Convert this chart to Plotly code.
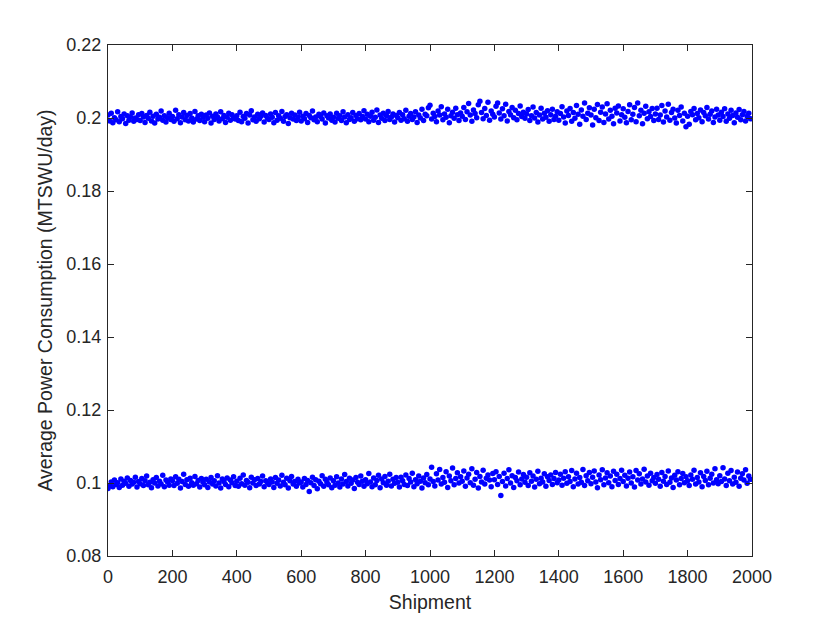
import plotly.graph_objects as go

# Shipment index of each plotted point (every 5th shipment)
shipments = list(range(0, 2000, 5))

# Values (MTSWU/day), 20 values per 100 shipments
upper_band = [
    0.2008,0.1992,0.2013,0.1987,0.2001,0.1995,0.2017,0.1990,0.2004,0.1998,0.2011,0.1985,0.2006,0.1994,0.2002,0.2014,0.1991,0.2000,0.1996,0.2009,
    0.1993,0.2012,0.2003,0.1988,0.2007,0.1999,0.2016,0.1992,0.2005,0.1986,0.2010,0.1997,0.2002,0.2019,0.1994,0.2006,0.1989,0.2001,0.2013,0.1996,
    0.2004,0.1991,0.2021,0.1998,0.2009,0.1987,0.2003,0.2015,0.1995,0.2007,0.1992,0.2012,0.2000,0.1989,0.2018,0.1997,0.2006,0.1993,0.2010,0.2002,
    0.1990,0.2008,0.1999,0.2014,0.1986,0.2005,0.1996,0.2011,0.2003,0.1992,0.2017,0.1998,0.2007,0.1988,0.2002,0.2013,0.1994,0.2009,0.2001,0.1997,
    0.2006,0.1993,0.2016,0.1990,0.2004,0.1999,0.2012,0.1986,0.2008,0.2020,0.1995,0.2003,0.1991,0.2010,0.1998,0.2005,0.2014,0.1989,0.2007,0.2000,
    0.1996,0.2011,0.2002,0.1987,0.2015,0.1994,0.2006,0.1999,0.2018,0.1991,0.2004,0.2009,0.1985,0.2001,0.2013,0.1997,0.2008,0.1993,0.2003,0.2016,
    0.1992,0.2005,0.1998,0.2012,0.1988,0.2007,0.2001,0.2019,0.1995,0.2003,0.1990,0.2010,0.2004,0.1997,0.2014,0.1986,0.2006,0.2000,0.2011,0.1994,
    0.2002,0.1989,0.2013,0.1999,0.2006,0.1993,0.2017,0.2003,0.1987,0.2009,0.1996,0.2001,0.2015,0.1991,0.2007,0.1998,0.2012,0.1995,0.2004,0.2020,
    0.1997,0.2010,0.1990,0.2005,0.2016,0.1994,0.2002,0.2022,0.1988,0.2008,0.1999,0.2013,0.1993,0.2006,0.2018,0.1996,0.2003,0.2011,0.1989,0.2007,
    0.2001,0.2015,0.1994,0.2009,0.1998,0.2021,0.1991,0.2005,0.2012,0.1996,0.2003,0.2017,0.1988,0.2008,0.2000,0.2024,0.1993,0.2010,0.2006,0.2028,
    0.2035,0.1997,0.2013,0.2004,0.1990,0.2019,0.2008,0.2031,0.1995,0.2011,0.2002,0.2024,0.1987,0.2006,0.2016,0.1999,0.2027,0.2009,0.1993,0.2014,
    0.2005,0.2029,0.1996,0.2017,0.2040,0.2008,0.1991,0.2022,0.2012,0.2001,0.2036,0.2046,0.2015,0.1998,0.2026,0.2007,0.2043,0.1994,0.2019,0.2010,
    0.2003,0.2032,0.2041,0.2014,0.1997,0.2025,0.2006,0.2038,0.1992,0.2018,0.2009,0.2029,0.2001,0.2021,0.1995,0.2012,0.2033,0.2004,0.2016,0.1999,
    0.2011,0.2023,0.1993,0.2006,0.2030,0.2000,0.2015,0.1989,0.2008,0.2027,0.1997,0.2013,0.2002,0.2020,0.1991,0.2009,0.2024,0.1996,0.2005,0.2017,
    0.1994,0.2012,0.2031,0.2003,0.1986,0.2019,0.2007,0.2026,0.1991,0.2015,0.1999,0.2034,0.2010,0.1983,0.2022,0.2005,0.2041,0.1996,0.2013,0.2028,
    0.2008,0.1981,0.2024,0.2001,0.2037,0.1993,0.2016,0.2030,0.1988,0.2011,0.2039,0.1997,0.2021,0.2005,0.1984,0.2027,0.2014,0.2033,0.1992,0.2009,
    0.2025,0.2002,0.1987,0.2018,0.2036,0.1995,0.2010,0.2029,0.1990,0.2041,0.2006,0.2021,0.1984,0.2013,0.2032,0.1998,0.2017,0.2004,0.2026,0.1993,
    0.2011,0.2027,0.1996,0.2008,0.2034,0.1989,0.2019,0.2003,0.2038,0.1994,0.2015,0.2024,0.2000,0.1986,0.2021,0.2007,0.2030,0.1992,0.2013,0.1976,
    0.2005,0.1983,0.2018,0.2009,0.2026,0.1995,0.2012,0.2001,0.2022,0.1990,0.2015,0.2006,0.2029,0.1997,0.2010,0.2019,0.1988,0.2003,0.2024,0.2008,
    0.1994,0.2016,0.2004,0.2025,0.1991,0.2011,0.1999,0.2021,0.2007,0.1987,0.2014,0.2002,0.2023,0.1995,0.2009,0.2018,0.1992,0.2005,0.2013,0.1998,
]

# Values (MTSWU/day)
lower_band = [
    0.0985,0.0992,0.1003,0.0990,0.1008,0.0996,0.1001,0.0988,0.1011,0.0994,0.1005,0.0999,0.1014,0.0991,0.1007,0.0997,0.1002,0.1016,0.0989,0.1004,
    0.0998,0.1012,0.0993,0.1006,0.1019,0.0995,0.1002,0.0987,0.1009,0.1000,0.1015,0.0992,0.1005,0.0997,0.1021,0.0990,0.1008,0.1003,0.0994,0.1011,
    0.1006,0.0993,0.1017,0.0999,0.1010,0.0986,0.1004,0.1024,0.0996,0.1009,0.0991,0.1013,0.1001,0.0994,0.1018,0.0998,0.1007,0.0989,0.1012,0.1002,
    0.0995,0.1010,0.0988,0.1003,0.1015,0.0997,0.1006,0.0992,0.1020,0.1000,0.0986,0.1011,0.1004,0.0996,0.1014,0.0990,0.1008,0.1001,0.1017,0.0993,
    0.1005,0.0991,0.1013,0.0998,0.1022,0.0994,0.1007,0.1002,0.0987,0.1016,0.1000,0.1009,0.0993,0.1012,0.0997,0.1004,0.1019,0.0990,0.1006,0.1001,
    0.0996,0.1011,0.1003,0.0988,0.1015,0.0999,0.1008,0.0992,0.1021,0.1002,0.0995,0.1013,0.0986,0.1006,0.1018,0.0997,0.1004,0.0991,0.1010,0.1000,
    0.1003,0.0989,0.1012,0.0996,0.1007,0.0977,0.1001,0.1016,0.0993,0.1009,0.0984,0.1005,0.0998,0.1020,0.0991,0.1010,0.1002,0.0995,0.1014,0.0987,
    0.1006,0.0994,0.1017,0.1000,0.0989,0.1011,0.0997,0.1023,0.1004,0.0992,0.1013,0.0999,0.1008,0.0985,0.1015,0.1002,0.0996,0.1019,0.1005,0.0991,
    0.1009,0.0998,0.1026,0.1003,0.0990,0.1014,0.0995,0.1007,0.1021,0.0987,0.1011,0.1001,0.1018,0.0994,0.1005,0.1024,0.0992,0.1010,0.0999,0.1015,
    0.1002,0.0989,0.1016,0.1006,0.0996,0.1022,0.0993,0.1012,0.1003,0.1027,0.0990,0.1009,0.0998,0.1019,0.1005,0.0986,0.1014,0.1001,0.1023,0.0995,
    0.1011,0.1043,0.1004,0.0992,0.1025,0.1008,0.1037,0.0997,0.1015,0.1002,0.1031,0.0988,0.1019,0.1006,0.1041,0.0995,0.1012,0.1028,0.1000,0.1017,
    0.1005,0.1033,0.0991,0.1014,0.1024,0.1001,0.1039,0.0994,0.1010,0.1029,0.0986,0.1018,0.1003,0.1035,0.0997,0.1013,0.1022,0.1008,0.0990,0.1026,
    0.1009,0.1031,0.0996,0.1018,0.0966,0.1004,0.1027,0.0992,0.1012,0.1036,0.1000,0.1020,0.0988,0.1015,0.1006,0.1030,0.0995,0.1011,0.1023,0.1002,
    0.1016,0.0993,0.1028,0.1005,0.1019,0.0989,0.1010,0.1032,0.0998,0.1013,0.1003,0.1025,0.0991,0.1017,0.1007,0.1022,0.0996,0.1012,0.1029,0.1001,
    0.1008,0.1024,0.0994,0.1013,0.1031,0.0999,0.1017,0.1004,0.1034,0.0990,0.1011,0.1027,0.0997,0.1015,0.1002,0.1037,0.0993,0.1020,0.1006,0.1029,
    0.0998,0.1016,0.1033,0.1003,0.0987,0.1022,0.1009,0.1036,0.0995,0.1014,0.1028,0.1001,0.1019,0.0990,0.1032,0.1007,0.1024,0.0996,0.1012,0.1035,
    0.1004,0.1021,0.0992,0.1013,0.1030,0.1000,0.1017,0.0989,0.1034,0.1008,0.1025,0.0997,0.1011,0.1038,0.1003,0.1019,0.0994,0.1027,0.1006,0.1015,
    0.0999,0.1023,0.1010,0.0991,0.1029,0.1005,0.1018,0.0996,0.1033,0.1002,0.1014,0.0988,0.1021,0.1008,0.1031,0.0995,0.1012,0.1026,0.1001,0.1017,
    0.1006,0.0993,0.1022,0.1010,0.1035,0.0997,0.1015,0.1003,0.1028,0.0990,0.1018,0.1007,0.1032,0.0995,0.1013,0.1024,0.1000,0.1039,0.1009,0.0998,
    0.1020,0.1004,0.1042,0.1011,0.0993,0.1027,0.1006,0.1034,0.0997,0.1016,0.1002,0.1030,0.0991,0.1013,0.1025,0.1008,0.1036,0.0999,0.1019,0.1010,
]

x_ticks = [0, 200, 400, 600, 800, 1000, 1200, 1400, 1600, 1800, 2000]
x_tick_labels = ["0", "200", "400", "600", "800", "1000", "1200", "1400", "1600", "1800", "2000"]
y_ticks = [0.08, 0.10, 0.12, 0.14, 0.16, 0.18, 0.20, 0.22]
y_tick_labels = ["0.08", "0.1", "0.12", "0.14", "0.16", "0.18", "0.2", "0.22"]

AXIS_COLOR = "#262626"
FONT = "Liberation Sans, Arial, Helvetica, sans-serif"

fig = go.Figure()
for band in (upper_band, lower_band):
    fig.add_trace(go.Scatter(
        x=shipments, y=band, mode="markers",
        marker=dict(color="#0000ff", size=5.5, line=dict(width=0)),
        showlegend=False, hoverinfo="skip",
    ))

axis_common = dict(
    showline=True, linecolor=AXIS_COLOR, linewidth=1, mirror="ticks",
    ticks="inside", ticklen=6, tickcolor=AXIS_COLOR, tickwidth=1,
    showgrid=False, zeroline=False,
    tickfont=dict(family=FONT, size=18, color=AXIS_COLOR),
)

fig.update_layout(
    width=830, height=623,
    margin=dict(l=100, r=86, t=37, b=75),
    paper_bgcolor="white", plot_bgcolor="white",
    font=dict(family=FONT, color=AXIS_COLOR),
    xaxis=dict(range=[0, 2000], tickmode="array", tickvals=x_ticks, ticktext=x_tick_labels,
               ticklabelstandoff=4,
               title=dict(text="Shipment", font=dict(family=FONT, size=19.5, color=AXIS_COLOR), standoff=9),
               **axis_common),
    yaxis=dict(range=[0.08, 0.22], tickmode="array", tickvals=y_ticks, ticktext=y_tick_labels,
               ticklabelstandoff=2,
               title=dict(text="Average Power Consumption (MTSWU/day)", font=dict(family=FONT, size=19.5, color=AXIS_COLOR), standoff=8),
               **axis_common),
)

fig.write_html("out.html")
